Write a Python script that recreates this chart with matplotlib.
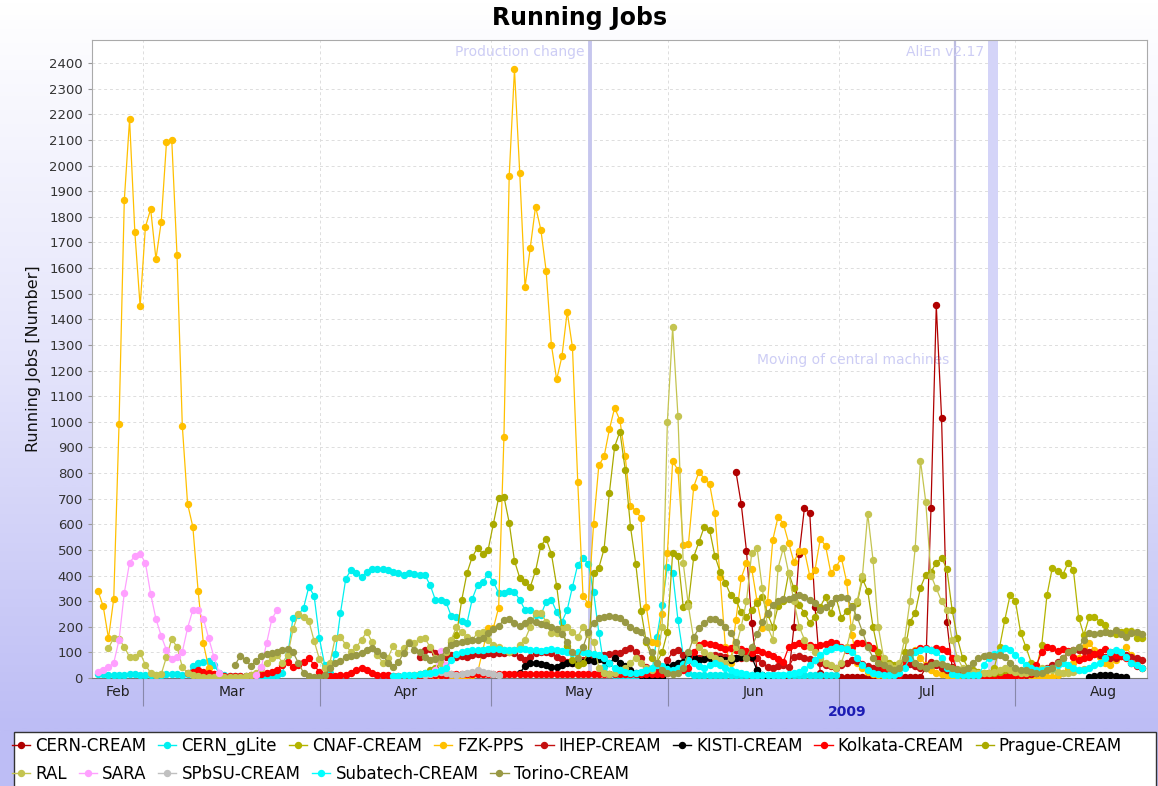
import numpy as np
import matplotlib
matplotlib.use("Agg")
import matplotlib.pyplot as plt
import matplotlib.dates as mdates
from matplotlib.lines import Line2D
from matplotlib.patches import Rectangle
from matplotlib.colors import LinearSegmentedColormap

# sampling of the monitoring series: one point every ~22 h starting Feb 21
T0 = np.datetime64("2009-02-21T01:00")
STEP = np.timedelta64(1332, "m")

# each series: list of (first sample index, values)
CERN_CREAM = [(121, [805, 680, 496, 215, 31, 8, 5, 5, 5, 5, 8, 199, 485, 665, 645, 278, 20, 8,
                     5, 5, 5, 5, 5, 5, 5, 5, 5, 5, 5, 5, 5, 5, 5, 5, 5, 5,
                     39, 665, 1454, 1016, 219, 43, 10, 5, 5, 5, 5, 5, 5, 5, 5, 5, 5, 5, 5, 5])]
CERN_GLITE = [(0, [15, 14, 12, 12, 13, 12, 14, 15, 12, 12, 13, 12, 12, 14, 15, 14, 13, 15,
                   45, 58, 63, 68, 50, 20,
                   10, 8, 8, 6, 6, 8, 8, 6, 5, 8, 10, 20,
                   90, 235, 246, 274, 356, 321, 156, 51, 20,
                   94, 254, 387, 422, 410, 395, 414, 426, 426, 426, 422, 414, 410, 402, 410, 406, 402,
                   402, 363, 305, 305, 297, 242, 238, 223, 215, 309, 363, 375, 406, 375, 332, 332, 340,
                   336, 305, 266, 266, 246, 246, 297, 305, 258, 219, 266, 356, 442, 469, 446, 336, 176,
                   43, 15, 10, 10, 8, 8, 8, 8, 10, 10,
                   160, 285, 434, 410, 227, 90, 20,
                   12, 10, 10, 10, 12, 12, 10, 10, 10, 10, 12, 12, 10, 10, 10, 10, 10, 10, 10, 10,
                   10, 10, 10, 10, 10, 10, 10, 10])]
CNAF_CREAM = [(165, [30, 25, 20, 15, 20, 40, 120, 227, 324, 301, 176, 121, 60, 40, 129, 324, 430, 418,
                     403, 450, 422, 235, 168, 238, 238, 220, 207, 176, 170, 180, 184, 184, 156, 156])]
FZK_PPS = [(0, [340, 280, 155, 310, 990, 1865, 2180, 1740, 1450, 1760, 1830, 1635, 1780, 2090, 2100,
                1650, 985, 680, 590, 340, 135, 40, 15, 8]),
           (64, [5, 10, 15, 10, 8, 5, 10, 12, 20, 110, 195, 195, 275, 940, 1960, 2375, 1970, 1525,
                 1680, 1840, 1750, 1590, 1300, 1165, 1255, 1430, 1290, 765, 320, 290,
                 600, 830, 865, 970, 1055, 1005, 865, 672, 653, 625,
                 278, 140, 137, 250, 488, 845, 813, 520, 524, 747,
                 805, 778, 758, 645, 395, 121, 58, 227, 390, 450,
                 426, 300, 195, 297, 540, 630, 602, 528, 453, 496,
                 496, 399, 422, 543, 516, 410, 434, 469, 375, 168,
                 60, 40, 25, 15, 10, 8, 10, 20, 40, 60, 90, 110, 80, 50, 30, 20, 15, 10, 8,
                 5, 5, 5, 5, 5, 5, 5, 5, 5, 5, 5, 5, 5, 5, 5, 5, 5, 5, 5,
                 10, 20, 40, 60, 80, 120, 137, 110, 82, 60, 50, 70, 100, 121, 90, 60, 40])]
IHEP_CREAM = [(61, [82, 109, 113, 98, 90, 82, 90, 82, 86, 82, 90, 94, 90, 98, 94, 98, 98, 102, 98, 82,
                    70, 82, 98, 102, 102, 98, 82, 74, 63, 59, 63, 70, 78, 82, 82, 90,
                    94, 96, 98, 108, 117, 102, 78, 43, 30, 25, 35, 70, 102, 109, 90, 70, 75, 78, 82,
                    85, 90, 86, 82, 80, 78, 80, 82, 80, 78, 60, 43, 40, 45, 51, 43,
                    82, 85, 80, 75, 70, 60, 50, 45, 40, 50, 60, 70, 65, 55, 45, 40, 35, 30, 30, 35,
                    40, 50, 55, 45, 40, 45, 63, 50, 40, 30, 20, 15, 12, 10, 10, 10, 10, 10, 10, 10,
                    10, 10, 10, 10, 12, 15, 20, 30, 40, 50, 63, 80, 100, 110, 109, 105, 100, 95, 90,
                    82, 78, 80, 85, 90, 82, 78, 70])]
KISTI_CREAM = [(80, [20, 47, 59, 59, 55, 51, 43, 43, 51, 59, 59, 59, 63, 70, 66, 74, 72,
                     59, 78, 60, 45, 31, 20, 12, 8, 5, 5, 5,
                     43, 50, 59, 63, 78, 82, 70, 75, 78, 76, 74, 72, 70, 78, 82, 90, 82, 31, 10, 5]),
               (188, [5, 8, 10, 12, 10, 8, 5, 3])]
KOLKATA_CREAM = [(17, [20, 25, 30, 25, 20, 15, 10, 8, 8, 8,
                       8, 8, 10, 12, 15, 20, 25, 30,
                       51, 63, 43, 50, 63, 78, 51, 23, 10,
                       8, 8, 10, 12, 20, 30,
                       39, 30, 20, 12,
                       10, 10, 8, 8, 8, 8, 8, 10, 10, 10, 12, 12, 12, 15, 15, 15, 15, 15, 15, 15,
                       15, 15, 15, 15, 15, 15, 15, 15, 15, 15, 15, 15, 15, 15, 15, 15, 15, 15, 15, 15,
                       15, 15, 15, 15, 15, 15, 15, 15, 15, 15, 15, 15, 15, 15, 18, 20, 25, 30, 40,
                       100, 129, 137, 133, 129, 121, 113, 117, 109, 113, 106, 98, 109, 102, 94, 86, 74,
                       63, 121, 129, 137, 125, 129, 121, 129, 133, 141, 137, 121, 110, 121, 137, 137,
                       129, 117, 82, 40, 15, 10, 10, 60, 98, 106, 117, 117, 109, 117, 113, 106, 78, 31,
                       15, 10, 8, 8, 8, 8, 8, 8, 8, 8, 8, 10, 15, 20,
                       50, 102, 121, 117, 106, 113, 106, 82, 70, 78, 82, 95, 102, 113, 102, 90, 85,
                       78, 59, 45, 39])]
PRAGUE_CREAM = [(60, [10, 15, 20, 30, 40, 60, 100, 140,
                      168, 305, 410, 473, 508, 485, 500, 602, 704, 708,
                      606, 457, 391, 375, 356, 418, 516, 543, 485, 360,
                      195, 125, 70, 50, 60, 98,
                      410, 430, 504, 723, 903, 962, 813, 590, 446, 262,
                      141, 80, 60, 100, 180, 489, 477, 278, 293, 473,
                      532, 590, 579, 477, 414, 371, 324, 305, 258, 238,
                      266, 293, 317, 250, 199, 280, 300, 410, 350, 285,
                      254, 215, 240, 278, 317, 254, 313, 235, 260, 280,
                      293, 387, 340, 199, 102, 70, 59, 51, 40, 100,
                      219, 254, 352, 403, 414, 450, 469, 426, 266, 156, 78, 40, 30, 25, 20, 20, 20,
                      25, 30, 30, 25])]
RAL = [(2, [117, 156, 152, 121, 82, 82, 98, 51, 20, 10, 15, 82, 152, 121, 43, 20, 10, 8, 5, 5]),
       (22, [5, 5, 5, 5, 5, 5, 8, 10, 20, 40, 60, 80, 90, 60,
             90, 190, 250, 238, 223, 145, 74, 40, 60,
             156, 160, 130, 100, 120, 150, 180, 140, 90, 60,
             78, 125, 98, 117, 141, 137, 152, 156, 120, 80,
             60, 100, 150, 199, 180, 160, 149, 176, 180, 150,
             130, 120, 110, 100, 110, 130, 150, 199, 254, 254,
             220, 176, 176, 192, 199, 180, 160, 199, 170, 140,
             40, 20, 15, 20, 30, 40, 60, 80, 60, 40, 30, 60, 200,
             1001, 1368, 1024, 450, 280, 150, 120, 100, 90, 80,
             70, 60, 80, 120, 200, 300, 489, 508, 350, 200,
             150, 430, 508, 410, 300, 200, 150, 120, 100, 80,
             60, 50, 40, 60, 120, 200, 300, 400, 641, 461,
             200, 80, 50, 40, 60, 150, 300, 508, 848, 688,
             400, 350, 300, 266, 150, 80, 40, 30, 25, 20,
             20, 20, 25, 30, 40, 30, 25, 20, 20, 25,
             30, 40, 35, 30, 25, 20, 20, 25, 30, 35])]
SARA = [(0, [23, 31, 43, 59, 149, 332, 450, 477, 485, 450, 328, 231, 164, 109, 74, 82, 102, 195,
             266, 266, 231, 156, 82, 20]),
        (30, [10, 43, 137, 231, 266]),
        (64, [30, 106, 50])]
SPBSU_CREAM = [(62, [10, 15, 20, 25, 20, 15, 10, 15, 20, 25, 30, 25, 20, 15, 10])]
SUBATECH_CREAM = [(56, [8, 8, 10, 10, 12, 15, 18, 20, 25, 30, 40, 70, 95, 100, 105, 108, 110, 110, 112,
                        115, 112, 110, 108, 110, 112, 115, 110, 108, 105, 110, 112, 108, 105, 100,
                        98, 100, 102, 98, 95, 90, 80, 60,
                        40, 30, 25, 20, 20, 25, 30, 40, 50, 45,
                        35, 30, 40, 55, 70, 60, 45, 40, 50, 60,
                        50, 40, 30, 25, 20, 15, 12, 10, 10, 10,
                        12, 12, 12, 15, 20, 25, 35, 50, 70, 90,
                        105, 115, 121, 118, 112, 100, 80, 50, 30, 20,
                        15, 12, 10, 10,
                        20, 40, 80, 100, 110, 112, 108, 100, 80, 40,
                        15, 10, 10, 10, 10, 12,
                        50, 80, 95, 102, 117, 110, 90, 70, 50, 40,
                        30, 30, 35, 40, 50, 60, 50, 40, 30, 30,
                        40, 50, 60, 80, 100, 110, 102, 82, 60, 50, 40])]
TORINO_CREAM = [(26, [51, 86, 70, 47, 66, 86, 94, 98, 102, 109,
                      113, 100, 60, 20, 8, 5, 5, 10, 40, 59,
                      66, 82, 86, 90, 98, 109, 117, 106, 90, 60,
                      43, 63, 98, 137, 109, 102, 82, 70, 75, 82,
                      109, 129, 137, 140, 145, 150, 150, 156, 176, 192,
                      203, 227, 231, 215, 203, 215, 227, 220, 210, 205,
                      200, 190, 170, 140, 100, 80, 120, 180, 215, 235,
                      238, 242, 238, 235, 219, 199, 188, 180, 150, 100,
                      60, 30, 20, 15, 20, 40, 100, 160, 195, 215,
                      231, 231, 219, 199, 176, 140, 100, 80, 120, 170,
                      219, 254, 285, 301, 309, 309, 317, 324, 317, 305,
                      293, 266, 278, 293, 313, 317, 313, 278, 238, 180,
                      120, 80, 60, 50, 40, 30, 40, 80, 100, 60,
                      45, 40, 50, 60, 55, 45, 40, 35, 30, 40,
                      60, 80, 86, 90, 85, 90, 82, 60, 40, 30,
                      30, 25, 20, 20, 30, 40, 60, 80, 100, 110,
                      120, 150, 176, 170, 176, 180, 176, 188, 170, 160,
                      176, 180, 170])]

SERIES = [
    ("CERN-CREAM", "#b00000", CERN_CREAM),
    ("CERN_gLite", "#00f0f0", CERN_GLITE),
    ("CNAF-CREAM", "#b4b400", CNAF_CREAM),
    ("FZK-PPS", "#ffc000", FZK_PPS),
    ("IHEP-CREAM", "#c41010", IHEP_CREAM),
    ("KISTI-CREAM", "#000000", KISTI_CREAM),
    ("Kolkata-CREAM", "#ff0000", KOLKATA_CREAM),
    ("Prague-CREAM", "#aaaa00", PRAGUE_CREAM),
    ("RAL", "#c4c450", RAL),
    ("SARA", "#ffa0ff", SARA),
    ("SPbSU-CREAM", "#c0c0c0", SPBSU_CREAM),
    ("Subatech-CREAM", "#00ffff", SUBATECH_CREAM),
    ("Torino-CREAM", "#999944", TORINO_CREAM),
]

# event markers on the time axis
PROD_CHANGE = np.datetime64("2009-05-18T09:00")
CENTRAL_MOVE = np.datetime64("2009-07-21T10:00")
ALIEN_BAND = (np.datetime64("2009-07-27T05:00"), np.datetime64("2009-07-28T22:00"))

MONTH_STARTS = np.array(["2009-03-01", "2009-04-01", "2009-05-01", "2009-06-01",
                         "2009-07-01", "2009-08-01"], dtype="datetime64[m]")
MONTH_LABEL_POS = np.array(["2009-02-24T12:00", "2009-03-16T12:00", "2009-04-16", "2009-05-16T12:00",
                            "2009-06-16", "2009-07-16T12:00", "2009-08-16T12:00"], dtype="datetime64[m]")
MONTH_NAMES = ["Feb", "Mar", "Apr", "May", "Jun", "Jul", "Aug"]
X_START = np.datetime64("2009-02-20T00:00")
X_END = np.datetime64("2009-08-24T02:00")

W, H = 1158, 786
fig = plt.figure(figsize=(W / 100, H / 100), dpi=100)

# background gradient white -> lavender
bg = fig.add_axes([0, 0, 1, 1], zorder=-10)
grad = np.linspace(0, 1, 400).reshape(-1, 1)
cmap = LinearSegmentedColormap.from_list("bg", ["#ffffff", "#e4e4fb", "#bdbdf5"])
bg.imshow(grad, aspect="auto", cmap=cmap, extent=[0, 1, 0.07, 1], origin="upper")
bg.add_patch(Rectangle((0, 0), 1, 0.07, color="#bdbdf5"))
bg.set_xlim(0, 1); bg.set_ylim(0, 1)
bg.axis("off")

ax = fig.add_axes([92 / W, 1 - 678 / H, (1147 - 92) / W, (678 - 40) / H])
ax.set_facecolor("white")

ax.axvline(PROD_CHANGE, color="#c6c6ee", lw=2.8, zorder=1)
ax.axvline(CENTRAL_MOVE, color="#bcbce0", lw=1.6, zorder=1)
ax.axvspan(*ALIEN_BAND, color="#d4d4f8", lw=0, zorder=1)

handles = []
for name, color, segs in SERIES:
    for start, vals in segs:
        t = T0 + (start + np.arange(len(vals))) * STEP
        ax.plot(t, vals, color=color, lw=0.9, marker="o", ms=4.3, mec=color, mfc=color, zorder=3)
    handles.append(Line2D([], [], color=color, lw=1.0, marker="o", ms=4.3, label=name))

ann_kw = dict(textcoords="offset points", ha="right", va="center", color="#cdcdf5", fontsize=10, zorder=2)
ax.annotate("Production change", xy=(PROD_CHANGE, 2443), xytext=(-4, 0), **ann_kw)
ax.annotate("AliEn v2.17", xy=(ALIEN_BAND[0], 2443), xytext=(-3, 0), **ann_kw)
ax.annotate("Moving of central machines", xy=(CENTRAL_MOVE, 1243), xytext=(-4, 0), **ann_kw)

ax.set_xlim(mdates.date2num(X_START), mdates.date2num(X_END))
ax.set_ylim(0, 2490)
ax.set_yticks(np.arange(0, 2401, 100))
ax.tick_params(axis="y", labelsize=9.5, colors="#333333", length=3, width=0.8)
ax.tick_params(axis="y", color="#999999")
ax.set_xticks(mdates.date2num(MONTH_STARTS))
ax.set_xticklabels([""] * len(MONTH_STARTS))
ax.set_xticks(mdates.date2num(MONTH_LABEL_POS), minor=True)
ax.set_xticklabels(MONTH_NAMES, minor=True)
ax.tick_params(axis="x", which="major", length=20, color="#8888aa", width=0.8)
ax.tick_params(axis="x", which="minor", length=0, pad=5, labelsize=10, labelcolor="#222222")
ax.grid(True, which="major", color="#dddddd", ls=(0, (3, 3)), lw=0.7)
ax.set_axisbelow(True)
for s in ["top", "right", "left"]:
    ax.spines[s].set_color("#aaaaaa")
ax.spines["bottom"].set_color("#777777")
ax.set_ylabel("Running Jobs [Number]", fontsize=11.5, color="#111111", labelpad=6)

fig.text(580 / W, 1 - 18 / H, "Running Jobs", ha="center", va="center", fontsize=17, fontweight="bold")
fig.text(847 / W, 1 - 712 / H, "2009", ha="center", va="center", fontsize=10, fontweight="bold",
         color="#1c1cb4")

# legend box
fig.patches.append(Rectangle((14 / W, -0.01), (1156 - 14) / W, (786 - 732) / H + 0.01,
                             transform=fig.transFigure, facecolor="white", edgecolor="#333333",
                             lw=1.0, zorder=1))
leg_kw = dict(frameon=False, fontsize=12, handlelength=1.1, handletextpad=0.3, columnspacing=0.7,
              borderaxespad=0, borderpad=0, loc="center left")
leg1 = fig.legend(handles=handles[:8], ncol=8, bbox_to_anchor=(12 / W, 1 - 746 / H), **leg_kw)
leg2 = fig.legend(handles=handles[8:], ncol=5, bbox_to_anchor=(12 / W, 1 - 774 / H), **leg_kw)
for lg in (leg1, leg2):
    lg.set_zorder(5)

fig.savefig("out.png", dpi=100)
